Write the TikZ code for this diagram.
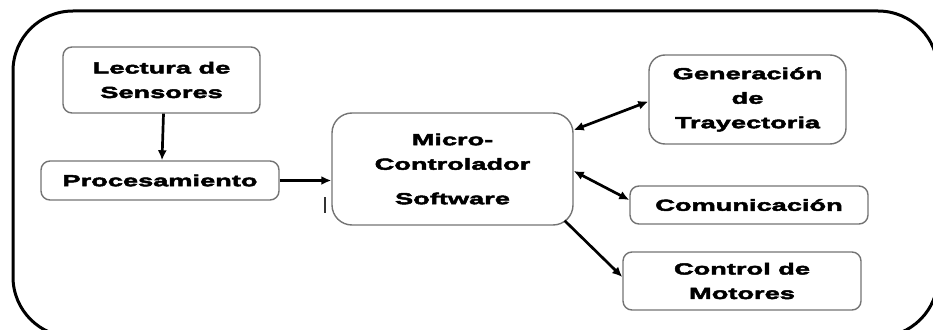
\documentclass[tikz,border=0pt]{standalone}
\usepackage{fontspec}
\newfontfamily\blockfont[FakeStretch=1.7,FakeBold=3]{Liberation Sans Bold}
\usetikzlibrary{arrows.meta}
\begin{document}
\begin{tikzpicture}[x=1pt,y=-1pt,
  block/.style={draw=black!55,line width=1.4pt,rounded corners=9pt,
    align=center,inner sep=0pt,font=\blockfont\fontsize{16}{24.5}\selectfont},
  link/.style={line width=2.7pt,-{Latex[length=10pt,width=9pt]}},
  duplex/.style={line width=2.7pt,{Latex[length=10pt,width=9pt]}-{Latex[length=10pt,width=9pt]}}]
\useasboundingbox (0,0) rectangle (933,329);
\begin{scope}
\clip (0,0) rectangle (933,329);
\draw[line width=3pt,rounded corners=60pt] (13,11) rectangle (938,337);
\end{scope}

\node[block,minimum width=197pt,minimum height=66pt] (lect) at (161.5,80) {Lectura de\\Sensores};
\node[block,minimum width=238pt,minimum height=39pt] (proc) at (160,180.5) {Procesamiento};
\node[block,rounded corners=20pt,minimum width=241pt,minimum height=112pt] (micro) at (452.5,169) {Micro-\\Controlador\\[10pt]Software};
\node[block,rounded corners=16pt,minimum width=197pt,minimum height=89pt] (gen) at (747.5,99.5) {Generación\\de\\Trayectoria};
\node[block,minimum width=238pt,minimum height=38pt] (com) at (749,205) {Comunicación};
\node[block,minimum width=238pt,minimum height=58pt] (mot) at (742,281) {Control de\\Motores};

% stray tick beside the controller
\coordinate (tickA) at (325,197);
\coordinate (tickB) at (325,213);
\draw[line width=1.8pt,black!80] (tickA) -- (tickB);

\draw[link] ([xshift=2pt]lect.south) -- ([xshift=2pt]proc.north);
\draw[link] (proc.east) -- (micro.west |- proc.east);
\draw[duplex] ([yshift=39pt]micro.east) -- ([yshift=-2pt]gen.west);
\draw[duplex] ([yshift=-2pt]micro.east) -- ([yshift=5pt]com.west);
\draw[link] ([shift={(-9pt,5pt)}]micro.south east) -- ([yshift=4pt]mot.west);
\end{tikzpicture}
\end{document}
